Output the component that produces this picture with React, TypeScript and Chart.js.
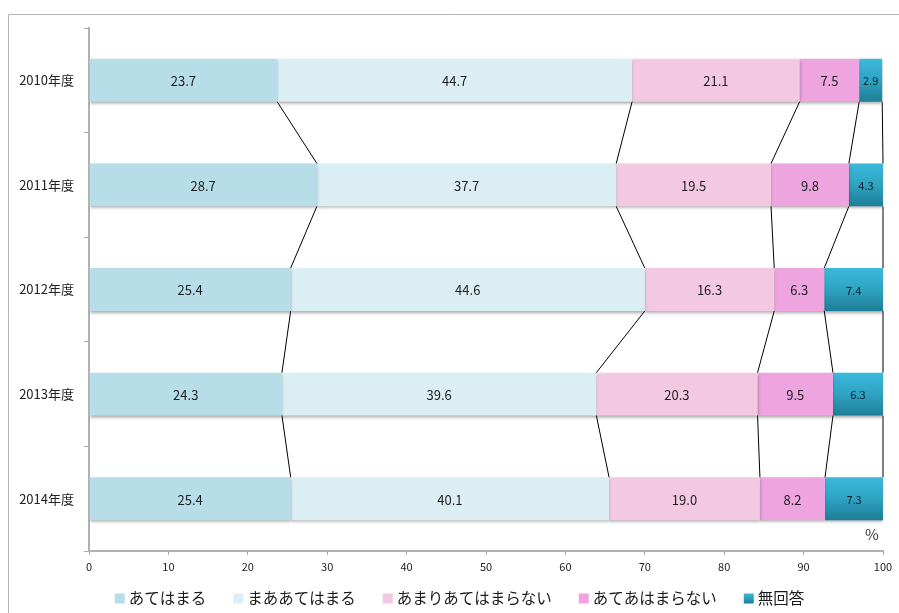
import React, { useEffect, useRef } from "react";
import { Chart, registerables } from "chart.js";

Chart.register(...registerables);

// ---- data ----
const years = ["2010年度", "2011年度", "2012年度", "2013年度", "2014年度"];
const seriesNames = ["あてはまる", "まああてはまる", "あまりあてはまらない", "あてあはまらない", "無回答"];
const atehamaru = [23.7, 28.7, 25.4, 24.3, 25.4];
const maaAtehamaru = [44.7, 37.7, 44.6, 39.6, 40.1];
const amariAtehamaranai = [21.1, 19.5, 16.3, 20.3, 19.0];
const atehamaranai = [7.5, 9.8, 6.3, 9.5, 8.2];
const mukaito = [2.9, 4.3, 7.4, 6.3, 7.3];
const xMin = 0;
const xMax = 100;
const xStep = 10;
const unitLabel = "%";

// ---- styles ----
const FONT = "'Noto Sans CJK JP', 'Noto Sans', sans-serif";
const solidColors = ["#b7dde8", "#daeef3", "#f2c9e1", "#eda4df"];
const gradTop = "#3bb9db";
const gradBottom = "#1f7e96";

function makeGradient(c: CanvasRenderingContext2D, y0: number, y1: number) {
  const g = c.createLinearGradient(0, y0, 0, y1);
  g.addColorStop(0, gradTop);
  g.addColorStop(0.5, "#2ea3c2");
  g.addColorStop(1, gradBottom);
  return g;
}

const BAR_PCT = 0.41;

const chartPlugin = {
  id: "customDecor",
  beforeDraw(chart: any) {
    const c = chart.ctx as CanvasRenderingContext2D;
    c.save();
    c.fillStyle = "#ffffff";
    c.fillRect(0, 0, chart.width, chart.height);
    c.strokeStyle = "#b4b4b4";
    c.lineWidth = 1;
    c.beginPath();
    c.moveTo(8.5, chart.height);
    c.lineTo(8.5, 14.5);
    c.lineTo(chart.width, 14.5);
    c.stroke();
    c.restore();
  },
  beforeDatasetsDraw(chart: any) {
    const c = chart.ctx as CanvasRenderingContext2D;
    c.save();
    c.shadowColor = "rgba(0,0,0,0.35)";
    c.shadowBlur = 3;
    c.shadowOffsetX = 0;
    c.shadowOffsetY = 2;
  },
  afterDatasetsDraw(chart: any) {
    const c = chart.ctx as CanvasRenderingContext2D;
    c.restore();
    c.save();
    // connector lines
    const n = chart.data.labels.length;
    const nd = chart.data.datasets.length;
    c.strokeStyle = "#000";
    c.lineWidth = 1;
    for (let i = 0; i < n - 1; i++) {
      for (let k = 0; k < nd; k++) {
        const meta = chart.getDatasetMeta(k);
        const a = meta.data[i];
        const b = meta.data[i + 1];
        const ya = a.y + a.height / 2;
        const yb = b.y - b.height / 2;
        c.beginPath();
        c.moveTo(a.x, ya);
        c.lineTo(b.x, yb);
        c.stroke();
      }
    }
    // data labels
    c.textAlign = "center";
    c.textBaseline = "middle";
    chart.data.datasets.forEach((ds: any, di: number) => {
      const meta = chart.getDatasetMeta(di);
      const last = di === nd - 1;
      c.font = last ? `11px ${FONT}` : `13px ${FONT}`;
      c.fillStyle = last ? "#0c1f28" : "#1e1e1e";
      meta.data.forEach((el: any, i: number) => {
        const v = ds.data[i];
        c.fillText(Number(v).toFixed(1), (el.x + el.base) / 2, el.y + 1);
      });
    });
    // unit label
    const xs = chart.scales.x;
    c.font = `15px ${FONT}`;
    c.fillStyle = "#333";
    c.fillText(unitLabel, xs.getPixelForValue(xMax) - 11, chart.chartArea.bottom - 17);
    c.restore();
  },
  afterDraw(chart: any) {
    const c = chart.ctx as CanvasRenderingContext2D;
    c.save();
    c.font = `15.5px ${FONT}`;
    c.textBaseline = "middle";
    c.textAlign = "left";
    const box = 10;
    const gapIn = 4;
    const gapOut = 27;
    const widths = chart.data.datasets.map((ds: any) => c.measureText(ds.label).width);
    const total = widths.reduce((s: number, w: number) => s + box + gapIn + w, 0) + gapOut * (widths.length - 1);
    let x = chart.width / 2 + 10 - total / 2;
    const yc = 598;
    chart.data.datasets.forEach((ds: any, i: number) => {
      if (i === chart.data.datasets.length - 1) {
        c.fillStyle = makeGradient(c, yc - box / 2, yc + box / 2);
      } else {
        c.fillStyle = solidColors[i];
      }
      c.fillRect(x, yc - box / 2 + 0.5, box, box);
      c.fillStyle = "#1a1a1a";
      c.fillText(ds.label, x + box + gapIn, yc);
      x += box + gapIn + widths[i] + gapOut;
    });
    c.restore();
  },
};

export default function App() {
  const ref = useRef<HTMLCanvasElement | null>(null);
  useEffect(() => {
    if (!ref.current) return;
    Chart.defaults.font.family = FONT;
    const seriesData = [atehamaru, maaAtehamaru, amariAtehamaranai, atehamaranai, mukaito];
    const datasets = seriesData.map((d, i) => ({
      label: seriesNames[i],
      data: d,
      backgroundColor:
        i < solidColors.length
          ? solidColors[i]
          : (ctx: any) => {
              const chart = ctx.chart;
              const ys = chart.scales.y;
              const area = chart.chartArea;
              if (!ys || !area) return gradTop;
              const band = (area.bottom - area.top) / years.length;
              const cy = ys.getPixelForValue(ctx.dataIndex);
              const half = (band * BAR_PCT) / 2;
              return makeGradient(chart.ctx, cy - half, cy + half);
            },
      borderWidth: 0,
      barPercentage: BAR_PCT,
      categoryPercentage: 1,
    }));
    const chart = new Chart(ref.current, {
      type: "bar",
      data: { labels: years, datasets },
      options: {
        indexAxis: "y",
        responsive: false,
        animation: false,
        devicePixelRatio: 1,
        layout: { padding: { top: 28, right: 16, bottom: 0, left: 0 } },
        plugins: { legend: { display: false }, tooltip: { enabled: false } },
        scales: {
          x: {
            stacked: true,
            min: xMin,
            max: xMax,
            ticks: { stepSize: xStep, color: "#222", font: { size: 11 }, padding: 5, maxRotation: 0 },
            grid: { drawOnChartArea: false, tickLength: 4, color: "#aaaaaa" },
            border: { color: "#b0b0b0", width: 2 },
            afterFit: (s: any) => {
              s.height = 62;
            },
          },
          y: {
            stacked: true,
            offset: true,
            ticks: { color: "#222", font: { size: 13 }, padding: 10 },
            grid: { drawOnChartArea: false, tickLength: 5, color: "#aaaaaa", offset: true },
            border: { color: "#b0b0b0", width: 2 },
            afterFit: (s: any) => {
              s.width = 89;
            },
          },
        },
      },
      plugins: [chartPlugin],
    } as any);
    return () => chart.destroy();
  }, []);
  return (
    <div style={{ position: "fixed", left: 0, top: 0, width: 899, height: 613 }}>
      <canvas ref={ref} width={899} height={613} style={{ display: "block" }} />
    </div>
  );
}
